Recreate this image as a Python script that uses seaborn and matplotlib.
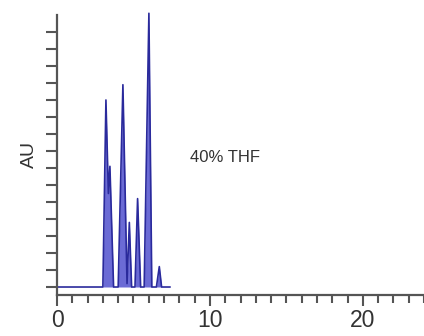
import matplotlib
matplotlib.use("Agg")
import matplotlib.pyplot as plt
import seaborn as sns
import pandas as pd
from matplotlib.ticker import MultipleLocator

# Chromatogram trace (time in min, signal in AU ticks)
time = [0.0, 3.0, 3.2, 3.36, 3.46, 3.7, 4.0, 4.31, 4.58, 4.73, 4.88,
        5.1, 5.27, 5.47, 5.7, 6.01, 6.2, 6.5, 6.69, 6.84, 7.4]
signal = [0.0, 0.0, 11.0, 5.5, 7.1, 0.0, 0.0, 11.9, 0.2, 3.8, 0.0,
          0.0, 5.2, 0.0, 0.0, 16.1, 0.0, 0.0, 1.2, 0.0, 0.0]
x_tick_labels = ["0", "10", "20"]
x_major = [0, 10, 20]
annotation = "40% THF"
ylabel = "AU"

sns.set_style("ticks")
plt.rcParams["font.family"] = ["Liberation Sans", "DejaVu Sans"]

df = pd.DataFrame({"time": time, "signal": signal})

fig = plt.figure(figsize=(4.24, 3.36), dpi=100)
ax = fig.add_axes([57 / 424, 1 - 295 / 336, 1 - 57 / 424, (295 - 15) / 336])

ax.fill_between(df["time"], df["signal"], 0, color="#3a3ac8", alpha=0.75,
                linewidth=0, clip_on=False)
sns.lineplot(data=df, x="time", y="signal", ax=ax, color="#2a2a9c",
             linewidth=1.2, sort=False, estimator=None, clip_on=False)

ax.set_xlim(0, 24.0)
ax.set_ylim(-0.47, 16.0)

ax.set_xticks(x_major)
ax.set_xticklabels(x_tick_labels, fontsize=16.5, color="#333333")
ax.xaxis.set_minor_locator(MultipleLocator(1))
ax.tick_params(axis="x", which="major", direction="out", length=8, width=1.5,
               color="#555555", pad=2)
ax.tick_params(axis="x", which="minor", direction="out", length=6, width=1.5,
               color="#555555")

ax.set_yticks(range(0, 16))
ax.set_yticklabels([])
ax.tick_params(axis="y", which="major", direction="out", length=8, width=1.5,
               color="#555555")

for s in ["left", "bottom"]:
    ax.spines[s].set_linewidth(1.6)
    ax.spines[s].set_color("#555555")
sns.despine(ax=ax, top=True, right=True)

ax.set_xlabel("")
ax.set_ylabel(ylabel, fontsize=14, color="#333333", labelpad=2)
ax.text(8.7, 7.6, annotation, fontsize=12, color="#333333",
        va="center", ha="left")

fig.savefig("out.png", dpi=100)
